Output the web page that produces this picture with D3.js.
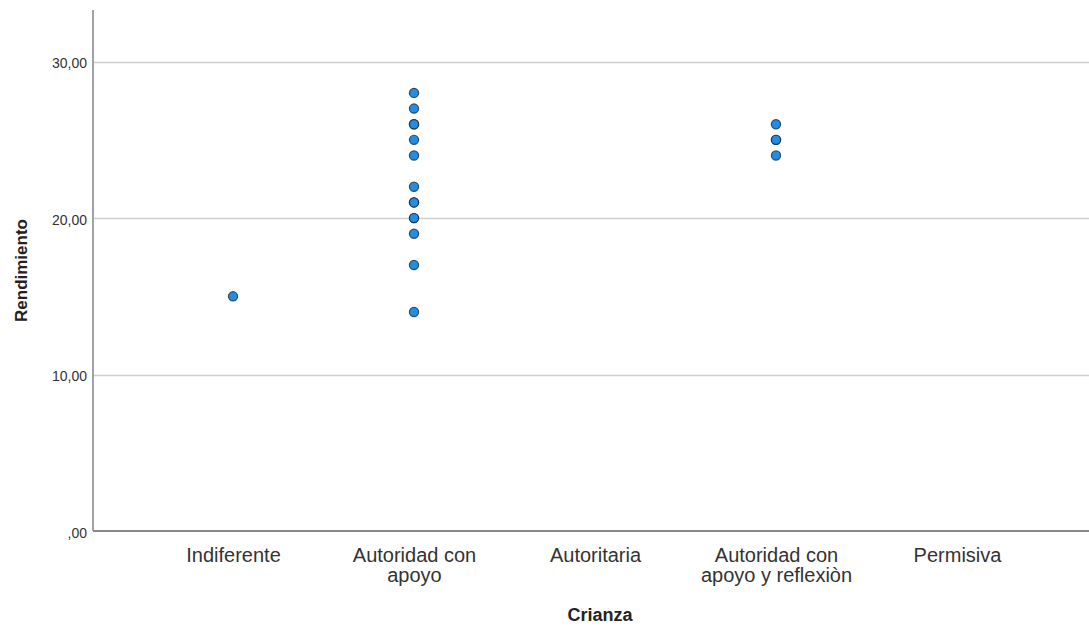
<!DOCTYPE html>
<html><head><meta charset="utf-8">
<script src="https://cdn.jsdelivr.net/npm/d3@7"></script>
<style>body{margin:0;background:#fff}svg{display:block}text{font-family:"Liberation Sans",Arial,sans-serif}</style>
</head><body><svg id="c" width="1089" height="628"></svg>
<script>
const categories = ["Indiferente","Autoridad con apoyo","Autoritaria","Autoridad con apoyo y reflexiòn","Permisiva"];
const categoryLines = [["Indiferente"],["Autoridad con","apoyo"],["Autoritaria"],["Autoridad con","apoyo y reflexiòn"],["Permisiva"]];
const indiferente = [15];
const autoridadConApoyo = [28,27,26,26,25,24,22,21,21,20,20,19,17,14];
const autoritaria = [];
const autoridadReflexion = [26,25,25,24];
const permisiva = [];
const yTicks = [0,10,20,30];
const yTickLabels = [",00","10,00","20,00","30,00"];

(function(){
const seriesByCat = [indiferente, autoridadConApoyo, autoritaria, autoridadReflexion, permisiva];
const points = [];
seriesByCat.forEach((vals,i)=>vals.forEach(v=>points.push({cat:categories[i], v})));

const svg = d3.select("#c");
const mLeft = 93, mBottom = 531, mTop = 10, mRight = 1089;
const x = d3.scalePoint().domain(categories).range([mLeft, 1097]).padding(0.7735);
const y = d3.scaleLinear().domain([0, 33.3]).range([mBottom, mTop]);

svg.append("g").selectAll("line").data(yTicks.filter(d=>d>0)).join("line")
  .attr("x1", mLeft).attr("x2", mRight)
  .attr("y1", d=>Math.round(y(d))+0.5).attr("y2", d=>Math.round(y(d))+0.5)
  .attr("stroke","#cfcfcf").attr("stroke-width",1.5);

const yAxis = d3.axisLeft(y).tickValues(yTicks).tickSize(0).tickPadding(6)
  .tickFormat((d,i)=>yTickLabels[i]);
const gy = svg.append("g").attr("transform",`translate(${mLeft},0)`).call(yAxis);
gy.select(".domain").remove();
gy.selectAll("text").attr("font-size",14).attr("fill","#333").attr("dy","0.45em")
  .attr("font-family","'Liberation Sans',Arial,sans-serif");
svg.append("line").attr("x1",mLeft).attr("x2",mLeft).attr("y1",mTop).attr("y2",mBottom)
  .attr("stroke","#999").attr("stroke-width",1.8);

const xAxis = d3.axisBottom(x).tickSize(0).tickFormat(()=> "");
const gx = svg.append("g").attr("transform",`translate(0,${mBottom})`).call(xAxis);
gx.select(".domain").remove();
svg.append("line").attr("x1",mLeft).attr("x2",mRight).attr("y1",mBottom).attr("y2",mBottom)
  .attr("stroke","#888").attr("stroke-width",1.8);
gx.selectAll(".tick").each(function(d,i){
  const t = d3.select(this).append("text").attr("text-anchor","middle").attr("fill","#333")
    .attr("font-size",20).attr("font-family","'Liberation Sans',Arial,sans-serif");
  categoryLines[i].forEach((ln,j)=>t.append("tspan").attr("x",0).attr("y",30.5+j*20).text(ln));
});

svg.append("text").attr("x",600).attr("y",621).attr("text-anchor","middle")
  .attr("font-size",18).attr("font-weight","bold").attr("fill","#222").text("Crianza");
svg.append("text").attr("transform","translate(27,270.5) rotate(-90)").attr("text-anchor","middle")
  .attr("font-size",17).attr("font-weight","bold").attr("fill","#222").text("Rendimiento");

svg.append("g").selectAll("circle").data(points).join("circle")
  .attr("cx", d=>x(d.cat)).attr("cy", d=>y(d.v)).attr("r",4.6)
  .attr("fill","#1f8fe5").attr("stroke","#222833").attr("stroke-width",1.2).attr("stroke-opacity",0.8);
})();
</script></body></html>
